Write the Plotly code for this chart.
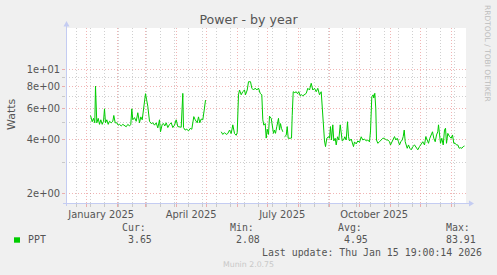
import plotly.graph_objects as go
import pandas as pd

# ---------------- data ----------------
# day offset from 2025-01-01, and measured power in Watts (None = no data)
days = [4.3, 6.0, 7.3, 8.6, 9.3, 10.6, 12.0, 13.3, 14.6, 16.0, 17.3, 18.3, 19.3, 20.6,
        22.0, 23.3, 25.0, 26.6, 27.6, 29.0, 30.6, 32.0, 33.3, 35.0, 36.6, 38.3, 40.0,
        41.6, 43.3, 44.6, 45.6, 46.6, 48.3, 50.0, 51.6, 53.3, 54.6, 56.0, 57.6, 59.3,
        60.3, 61.6, 63.3, 65.0, 66.6, 68.3, 70.0, 71.6, 73.3, 74.3, 76.0, 77.3, 78.6,
        80.0, 81.6, 83.3, 85.0, 86.6, 88.3, 90.0, 91.6, 93.3, 95.0, 96.6, 97.3, 99.0,
        100.6, 102.3, 104.0, 105.6, 107.6, 109.0, 111.0, 112.3, 113.6, 115.0, 116.6,
        118.0, 119.3, 127.0,
        135.0, 136.6, 138.3, 140.0, 141.6, 143.3, 145.0, 146.6, 148.3, 150.0, 151.0,
        151.6, 152.3, 153.3, 155.0, 156.6, 158.3, 159.3, 161.0, 162.3, 164.3, 165.6,
        167.3, 169.0, 170.6, 172.3, 174.0, 175.6, 176.6, 177.6, 179.0, 180.0, 181.0,
        182.3, 183.3, 185.0, 186.0, 187.3, 188.3, 189.3, 190.6, 192.3, 193.3, 194.3,
        195.3, 196.6, 197.4,
        198.3, 200.0, 201.0, 202.0, 204.0, 205.3, 206.0, 207.0, 208.6, 210.0, 211.3,
        212.6, 214.0, 215.3, 216.6, 218.3, 220.0, 221.6, 223.3, 225.0, 226.6, 228.3,
        230.0, 231.6, 233.3, 235.0, 236.0, 237.3, 238.3, 239.3, 240.6, 242.3, 243.3,
        244.3, 245.3, 246.6, 247.6, 249.0, 250.0, 251.3, 252.6, 254.0, 255.0, 256.0,
        257.3, 258.6, 260.0, 261.3, 262.3, 263.3, 265.0, 266.0, 267.3, 268.3, 270.0,
        271.6, 273.3, 275.0, 276.6, 278.3, 280.0, 281.6, 283.3, 284.3, 285.0, 285.6,
        287.0, 287.6, 288.6, 289.6, 290.3, 291.6, 293.3, 295.0, 296.6, 298.3, 300.0,
        301.6, 303.3, 304.3, 305.6, 307.0, 308.3, 309.6, 311.0, 312.3, 313.3, 314.6,
        316.0, 317.0, 318.0, 319.0, 320.0, 321.0, 322.3, 323.6, 325.0, 326.6, 328.3,
        330.0, 331.6, 333.3, 335.0, 336.6, 338.3, 339.6, 341.0, 342.3, 343.6, 345.0,
        346.3, 347.6, 349.0, 350.3, 351.6, 352.3, 353.3, 354.3, 355.6, 357.0, 358.3,
        359.3, 360.3, 361.6, 363.3, 365.0, 366.3, 367.6, 369.0, 370.3, 371.6, 373.0,
        374.0, 375.6, 377.0, 378.3]

watts = [5.5, 5.07, 5.3, 5.0, 8.05, 5.0, 5.3, 4.9, 5.2, 4.9, 5.1, 6.0, 5.0, 5.2,
         4.9, 5.1, 5.0, 5.1, 5.5, 5.0, 5.0, 4.85, 4.9, 4.8, 4.9, 4.85, 4.75,
         4.9, 4.8, 4.9, 6.0, 5.2, 5.35, 5.1, 5.7, 5.0, 5.4, 5.2, 6.3, 7.3,
         6.8, 6.2, 5.1, 4.95, 5.0, 4.85, 5.0, 4.68, 5.2, 4.45, 4.9, 4.95, 4.8,
         5.0, 4.7, 4.9, 5.0, 4.7, 4.85, 5.2, 4.76, 4.75, 4.72, 7.33, 4.7, 4.55,
         4.6, 4.5, 4.65, 4.6, 5.42, 5.2, 5.0, 5.4, 5.0, 5.25, 5.2,
         5.9, 6.72, None,
         4.45, 4.3, 4.4, 4.3, 4.35, 4.55, 4.35, 4.87, 4.35, 4.25, 4.4,
         5.5, 7.2, 7.66, 7.2, 7.5, 7.66, 7.2, 7.66, 8.53, 8.53, 7.85,
         7.66, 7.85, 7.66, 7.85, 7.33, 7.2, 5.2, 4.85, 4.95, 4.1, 4.6,
         4.3, 5.45, 5.3, 4.87, 4.36, 4.55, 4.36, 4.76, 5.3, 4.55, 4.95,
         4.65, 4.45, None,
         4.17, 4.25, 4.76, 4.09, 4.09, 4.1, 5.5, 7.49, 7.4, 7.49, 7.3,
         7.49, 7.1, 7.2, 7.1, 7.2, 7.33, 7.83, 7.66, 8.36, 7.66, 7.83,
         7.49, 7.83, 7.2, 7.49, 6.0, 4.6, 3.95, 3.67, 4.09, 4.17, 4.09,
         4.76, 4.0, 4.87, 3.95, 4.09, 3.75, 4.17, 4.0, 4.87, 4.25, 3.95,
         4.0, 4.17, 4.0, 5.07, 4.17, 3.95, 4.05, 3.8, 3.67, 3.9, 3.8,
         3.95, 3.88, 4.17, 4.0, 4.05, 3.95, 4.0, 3.9, 4.5, 6.0, 7.02,
         7.2, 6.9, 7.34, 6.0, 4.0, 3.83, 3.91, 4.0, 4.09, 4.09, 4.0,
         4.0, 3.91, 3.75, 3.91, 4.09, 4.18, 4.0, 4.09, 3.91, 3.75, 3.91,
         4.0, 4.18, 4.55, 3.91, 3.67, 3.59, 3.75, 3.59, 3.52, 3.67, 3.75,
         3.62, 3.52, 3.67, 3.83, 3.91, 3.75, 4.18, 4.0, 3.83, 4.09, 4.27,
         4.45, 4.09, 3.91, 4.27, 4.45, 4.87, 4.09, 3.83, 4.09, 3.75, 4.55,
         4.66, 3.83, 4.36, 4.18, 4.09, 4.27, 3.83, 3.83, 3.75, 3.75, 3.59,
         3.62, 3.59, 3.67, 3.7]

series_name = "PPT"
stat_labels = ["Cur:", "Min:", "Avg:", "Max:"]
stat_values = ["3.65", "2.08", "4.95", "83.91"]
y_tick_values = [2, 4, 6, 8, 10]
y_tick_text = ["2e+00", "4e+00", "6e+00", "8e+00", "1e+01"]
y_minor_values = [3, 5, 7, 9]
month_labels = ["January 2025", "April 2025", "July 2025", "October 2025"]
month_label_dates = ["2025-01-16", "2025-04-16", "2025-07-16", "2025-10-16"]
title_text = "Power - by year"
y_title = "Watts"
last_update = "Last update: Thu Jan 15 19:00:14 2026"
range_start, range_end = "2024-12-11 19:00", "2026-01-15 19:00"

# ---------------- derived ----------------
origin = pd.Timestamp("2025-01-01")
dates = [origin + pd.Timedelta(days=d) for d in days]
month_starts = pd.date_range("2024-12-01", "2026-01-01", freq="MS")
biweekly = pd.date_range("2024-12-22", "2026-01-15", freq="14D")

W, H = 497, 275
L, R, T, B = 66, 31, 28, 72
PW, PH = W - L - R, H - T - B


def px(xp):
    return (xp - L) / PW


def py(yp):
    return (T + PH - yp) / PH


RED = "rgba(230,120,120,0.55)"
GREY = "rgba(170,170,170,0.55)"
AXIS = "#C4CCF2"
TXT = "#555555"
SANS = "DejaVu Sans"
MONO = "DejaVu Sans Mono"
DOT = "1px,2px"

fig = go.Figure()
fig.add_trace(go.Scatter(x=dates, y=watts, mode="lines", name=series_name,
                         line=dict(color="#00CC00", width=1), connectgaps=False,
                         showlegend=False, hoverinfo="skip"))
fig.add_trace(go.Scatter(x=[range_start], y=[None], xaxis="x2", yaxis="y",
                         showlegend=False, hoverinfo="skip"))

fig.update_layout(
    width=W, height=H,
    margin=dict(l=L, r=R, t=T, b=B, autoexpand=False),
    paper_bgcolor="#F0F0F0", plot_bgcolor="#FFFFFF",
    title=dict(text=title_text, x=0.5, xref="container", xanchor="center",
               y=1 - 19.5 / H, yref="container", yanchor="middle",
               font=dict(family=SANS, size=12.6, color=TXT)),
    xaxis=dict(type="date", range=[range_start, range_end],
               showticklabels=False, tickmode="array", tickvals=month_starts,
               ticks="outside", ticklen=3, tickcolor=RED,
               showgrid=True, gridcolor=RED, griddash=DOT, gridwidth=1,
               minor=dict(tickvals=biweekly, ticks="outside", ticklen=3,
                          tickcolor=GREY, showgrid=True, gridcolor=GREY,
                          griddash=DOT, gridwidth=1),
               zeroline=False, showline=False, fixedrange=True),
    xaxis2=dict(type="date", range=[range_start, range_end], overlaying="x",
                anchor="y", side="bottom", tickmode="array",
                tickvals=month_label_dates, ticktext=month_labels,
                ticks="", showgrid=False, zeroline=False, showline=False,
                ticklabelstandoff=4,
                tickfont=dict(family=SANS, size=9.9, color=TXT)),
    yaxis=dict(type="log", range=[0.2462, 1.2343], tickmode="array",
               tickvals=y_tick_values, ticktext=y_tick_text,
               ticks="outside", ticklen=3, tickcolor=RED,
               showgrid=True, gridcolor=RED, griddash=DOT, gridwidth=1,
               minor=dict(tickvals=y_minor_values, ticks="outside", ticklen=3,
                          tickcolor=GREY, showgrid=True, gridcolor=GREY,
                          griddash=DOT, gridwidth=1),
               tickfont=dict(family=SANS, size=9.9, color=TXT),
               zeroline=False, showline=False),
)

# axes lines with arrows
shapes = [
    dict(type="line", xref="paper", yref="paper", x0=px(66.5), x1=px(66.5),
         y0=py(206), y1=py(25), line=dict(color=AXIS, width=1)),
    dict(type="line", xref="paper", yref="paper", x0=px(63), x1=px(470),
         y0=py(203.5), y1=py(203.5), line=dict(color=AXIS, width=1)),
    dict(type="path", xref="paper", yref="paper",
         path=f"M {px(63.5)},{py(26.5)} L {px(69.5)},{py(26.5)} L {px(66.5)},{py(21)} Z",
         fillcolor=AXIS, line=dict(width=0)),
    dict(type="path", xref="paper", yref="paper",
         path=f"M {px(469)},{py(200.5)} L {px(469)},{py(206.5)} L {px(474)},{py(203.5)} Z",
         fillcolor=AXIS, line=dict(width=0)),
    dict(type="rect", xref="paper", yref="paper", x0=px(14), x1=px(20),
         y0=py(242.7), y1=py(237.3), fillcolor="#00CC00", line=dict(width=0)),
]
fig.update_layout(shapes=shapes)

ann = []


def add_text(text, xp, yp, xanchor="left", size=9.9, family=MONO, color=TXT, angle=0):
    ann.append(dict(text=text, xref="paper", yref="paper", x=px(xp), y=py(yp),
                    xanchor=xanchor, yanchor="middle", showarrow=False,
                    textangle=angle, borderpad=0,
                    font=dict(family=family, size=size, color=color)))


add_text(y_title, 11, 114, xanchor="center", size=11, family=SANS, angle=-90)
add_text(series_name, 26.5, 239.5)
label_right = [146.5, 254.5, 362.5, 470.5]
value_right = [152.5, 260.5, 368.5, 477.0]
for lab, val, xl, xv in zip(stat_labels, stat_values, label_right, value_right):
    add_text(lab, xl, 227, xanchor="right")
    add_text(val, xv, 239.5, xanchor="right")
add_text(last_update, 483, 252, xanchor="right")
add_text("Munin 2.0.75", 248, 264, xanchor="center", size=7.8, family=SANS, color="#C8C8C8")
add_text("RRDTOOL / TOBI OETIKER", 487.5, 53.5, xanchor="center", size=7.5,
         family=SANS, color="#BDBDBD", angle=90)
fig.update_layout(annotations=ann)

fig.write_html("out.html")
